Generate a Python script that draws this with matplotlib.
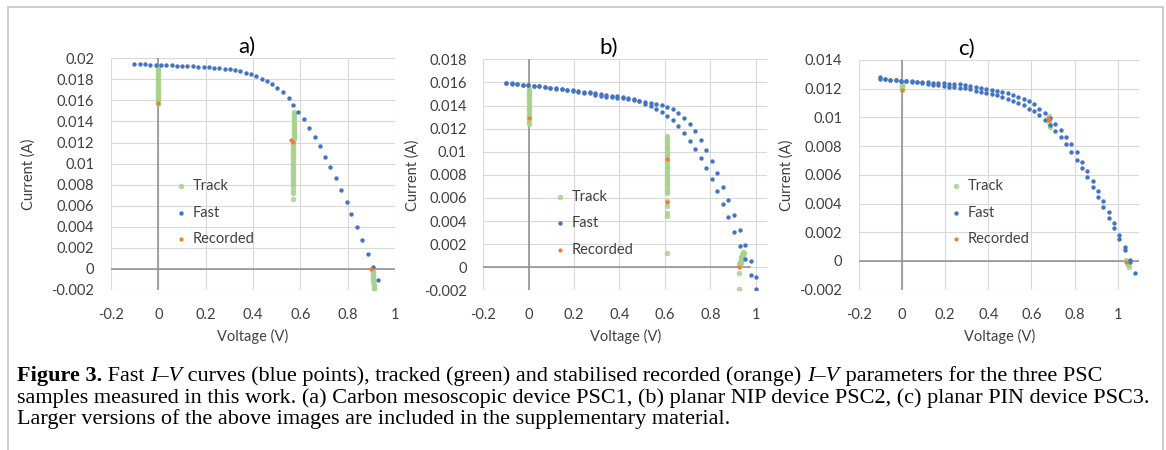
import matplotlib
matplotlib.use("Agg")
import matplotlib.pyplot as plt
from matplotlib.patches import Rectangle

plt.rcParams['font.family'] = ['Lato', 'DejaVu Sans']
plt.rcParams['axes.unicode_minus'] = False

# ---- data ----
x_ticks = [-0.2, 0, 0.2, 0.4, 0.6, 0.8, 1.0]
x_tick_labels = ['-0.2', '0', '0.2', '0.4', '0.6', '0.8', '1']

# a) carbon mesoscopic PSC1
a_fast_v = [-0.101, -0.078, -0.056, -0.034, -0.011, 0.011, 0.034, 0.056, 0.078, 0.101,
            0.123, 0.146, 0.168, 0.191, 0.213, 0.235, 0.258, 0.280, 0.302, 0.325,
            0.347, 0.370, 0.392, 0.414, 0.436, 0.459, 0.481, 0.503, 0.526, 0.550,
            0.571, 0.592, 0.614, 0.638, 0.660, 0.682, 0.705, 0.727, 0.750, 0.772,
            0.795, 0.816, 0.839, 0.861, 0.884, 0.907, 0.929]
a_fast_i = [0.01943, 0.01943, 0.01942, 0.01940, 0.01939, 0.01937, 0.01935, 0.01933, 0.01931, 0.01929,
            0.01927, 0.01925, 0.01922, 0.01919, 0.01916, 0.01912, 0.01907, 0.01901, 0.01894, 0.01886,
            0.01876, 0.01865, 0.01851, 0.01833, 0.01808, 0.01781, 0.01752, 0.01718, 0.01677, 0.01626,
            0.01559, 0.01492, 0.01420, 0.01340, 0.01255, 0.01166, 0.01065, 0.00970, 0.00862, 0.00748,
            0.00637, 0.00517, 0.00396, 0.00270, 0.00146, 0.00019, -0.00107]
a_track_v = [0.0] * 19 + [0.572] * 14 + [0.569] * 22 + [0.570, 0.570, 0.570] + \
            [0.905, 0.905, 0.906, 0.906, 0.907, 0.908, 0.908, 0.909, 0.910, 0.910, 0.911]
a_track_i = [0.0193, 0.0191, 0.0189, 0.0187, 0.0185, 0.0183, 0.0181, 0.0179, 0.0177, 0.0175,
             0.0173, 0.0171, 0.0169, 0.0167, 0.0165, 0.0163, 0.0161, 0.0159, 0.0157,
             0.0149, 0.0147, 0.0145, 0.0143, 0.0141, 0.0139, 0.0137, 0.0135, 0.0133, 0.0131,
             0.0129, 0.0127, 0.0125, 0.0123,
             0.0121, 0.0119, 0.0117, 0.0115, 0.0113, 0.0111, 0.0109, 0.0107, 0.0105, 0.0103,
             0.0101, 0.0099, 0.0097, 0.0095, 0.0093, 0.0091, 0.0089, 0.0087, 0.0085, 0.0083,
             0.0081, 0.0079,
             0.0075, 0.0072, 0.0066,
             0.0000, -0.0002, -0.0004, -0.0006, -0.0008, -0.0010, -0.0012, -0.0014, -0.0016,
             -0.0018, -0.0020]
a_rec_v = [0.0, 0.562, 0.568, 0.897]
a_rec_i = [0.01572, 0.01222, 0.01204, 0.0000]

# b) planar NIP PSC2 (two sweep directions)
b_fast_v = [-0.100, -0.075, -0.051, -0.026, -0.002, 0.023, 0.047, 0.072, 0.096, 0.121,
            0.145, 0.170, 0.194, 0.219, 0.243, 0.268, 0.292, 0.317, 0.341, 0.366,
            0.390, 0.415, 0.439, 0.464, 0.488, 0.513, 0.537, 0.562, 0.586, 0.611,
            0.635, 0.660, 0.684, 0.709, 0.733, 0.758, 0.782, 0.807, 0.831, 0.856,
            0.880, 0.905, 0.929, 0.954, 0.978, 1.003]
b_up_i = [0.01598, 0.01592, 0.01586, 0.01581, 0.01577, 0.01573, 0.01568, 0.01562, 0.01556, 0.01550,
          0.01544, 0.01538, 0.01532, 0.01526, 0.01520, 0.01513, 0.01506, 0.01499, 0.01492, 0.01486,
          0.01479, 0.01471, 0.01465, 0.01454, 0.01440, 0.01428, 0.01422, 0.01414, 0.01404, 0.01390,
          0.01366, 0.01335, 0.01295, 0.01243, 0.01177, 0.01104, 0.01018, 0.00920, 0.00813, 0.00698,
          0.00582, 0.00453, 0.00323, 0.00190, 0.00055, -0.00087]
b_lo_i = [0.01596, 0.01590, 0.01584, 0.01579, 0.01575, 0.01570, 0.01565, 0.01559, 0.01553, 0.01547,
          0.01540, 0.01534, 0.01527, 0.01518, 0.01512, 0.01505, 0.01494, 0.01484, 0.01478, 0.01473,
          0.01467, 0.01461, 0.01455, 0.01448, 0.01435, 0.01413, 0.01399, 0.01370, 0.01341, 0.01312,
          0.01272, 0.01223, 0.01162, 0.01096, 0.01022, 0.00945, 0.00862, 0.00767, 0.00660, 0.00545,
          0.00433, 0.00308, 0.00182, 0.00069, -0.00067, -0.00188]
b_track_v = [0.0] * 16 + [0.611] * 26 + [0.611] * 5 + \
            [0.928, 0.931, 0.934, 0.937, 0.940, 0.943, 0.946, 0.949, 0.945, 0.940, 0.935, 0.930,
             0.928, 0.928]
b_track_i = [0.0154, 0.0152, 0.0150, 0.0148, 0.0146, 0.0144, 0.0142, 0.0140, 0.0138, 0.0136,
             0.0134, 0.0132, 0.0130, 0.0128, 0.0126, 0.0124,
             0.0114, 0.0112, 0.0110, 0.0108, 0.0106, 0.0104, 0.0102, 0.0100, 0.0098, 0.0096,
             0.0094, 0.0092, 0.0090, 0.0088, 0.0086, 0.0084, 0.0082, 0.0080, 0.0078, 0.0076,
             0.0074, 0.0072, 0.0070, 0.0068, 0.0066, 0.0064,
             0.0057, 0.0053, 0.0047, 0.0044, 0.0012,
             0.0003, 0.0005, 0.0007, 0.0009, 0.0011, 0.0012, 0.0013, 0.0012, 0.0010, 0.0007,
             0.0004, 0.0001,
             -0.0005, -0.0019]
b_rec_v = [0.0, 0.611, 0.611, 0.926]
b_rec_i = [0.01289, 0.00937, 0.00565, 0.0000]

# c) planar PIN PSC3 (two sweep directions)
c_fast_v = [-0.104, -0.079, -0.055, -0.030, -0.005, 0.020, 0.044, 0.069, 0.094, 0.118,
            0.143, 0.168, 0.192, 0.217, 0.242, 0.267, 0.291, 0.316, 0.341, 0.365,
            0.390, 0.415, 0.439, 0.464, 0.489, 0.514, 0.538, 0.563, 0.588, 0.612,
            0.637, 0.662, 0.686, 0.711, 0.736, 0.760, 0.785, 0.810, 0.835, 0.859,
            0.884, 0.908, 0.933, 0.958, 0.983, 1.007, 1.032, 1.057, 1.082]
c_up_i = [0.01279, 0.01268, 0.01263, 0.01261, 0.01256, 0.01254, 0.01251, 0.01248, 0.01246, 0.01244,
          0.01242, 0.01240, 0.01238, 0.01235, 0.01233, 0.01230, 0.01226, 0.01221, 0.01214, 0.01206,
          0.01200, 0.01194, 0.01186, 0.01175, 0.01167, 0.01156, 0.01145, 0.01131, 0.01114, 0.01092,
          0.01060, 0.01029, 0.00994, 0.00954, 0.00915, 0.00866, 0.00813, 0.00757, 0.00692, 0.00629,
          0.00560, 0.00490, 0.00416, 0.00339, 0.00262, 0.00181, 0.00100, 0.00007, -0.00081]
c_lo_i = [0.01270, 0.01266, 0.01261, 0.01258, 0.01254, 0.01251, 0.01248, 0.01244, 0.01238, 0.01235,
          0.01228, 0.01224, 0.01219, 0.01215, 0.01211, 0.01206, 0.01202, 0.01196, 0.01184, 0.01179,
          0.01170, 0.01165, 0.01153, 0.01143, 0.01131, 0.01117, 0.01103, 0.01086, 0.01062, 0.01042,
          0.01018, 0.00984, 0.00945, 0.00903, 0.00861, 0.00813, 0.00757, 0.00703, 0.00645, 0.00583,
          0.00518, 0.00448, 0.00378, 0.00302, 0.00228, 0.00151, 0.00074, -0.00005]
c_track_v = [0.0, 0.0, 0.0, 0.0, 0.0, 0.680, 0.682, 0.683, 0.684, 0.686,
             1.040, 1.043, 1.046, 1.048, 1.050]
c_track_i = [0.0123, 0.0122, 0.0121, 0.0120, 0.0119, 0.0101, 0.0099, 0.0097, 0.0095, 0.0093,
             0.0001, -0.0001, -0.0002, -0.0003, -0.0004]
c_rec_v = [0.0, 0.678, 0.679, 1.039]
c_rec_i = [0.0119, 0.00994, 0.0098, -0.00005]

a_yticks = [-0.002, 0, 0.002, 0.004, 0.006, 0.008, 0.01, 0.012, 0.014, 0.016, 0.018, 0.02]
a_ylabels = ['-0.002', '0', '0.002', '0.004', '0.006', '0.008', '0.01', '0.012', '0.014',
             '0.016', '0.018', '0.02']
b_yticks = [-0.002, 0, 0.002, 0.004, 0.006, 0.008, 0.01, 0.012, 0.014, 0.016, 0.018]
b_ylabels = ['-0.002', '0', '0.002', '0.004', '0.006', '0.008', '0.01', '0.012', '0.014',
             '0.016', '0.018']
c_yticks = [-0.002, 0, 0.002, 0.004, 0.006, 0.008, 0.01, 0.012, 0.014]
c_ylabels = ['-0.002', '0', '0.002', '0.004', '0.006', '0.008', '0.01', '0.012', '0.014']

GREEN = '#a9d18e'
BLUE = '#4472c4'
ORANGE = '#ed7d31'

fig = plt.figure(figsize=(11.66, 4.5), dpi=100)
fig.patch.set_facecolor('white')

# grey frame around the figure
fig.patches.append(Rectangle((8 / 1166, -0.1), 1155 / 1166, 1.1 - 7 / 450,
                             transform=fig.transFigure, fill=False,
                             edgecolor='#c4c4c4', lw=1.2))

panels = [
    dict(rect=[0.0952, 0.3556, 0.2436, 0.5148], xmax=1.0, yt=a_yticks, yl=a_ylabels,
         fast=[(a_fast_v, a_fast_i)], track=(a_track_v, a_track_i), rec=(a_rec_v, a_rec_i),
         title='a)', tx=0.479, lpad=11, leg=(0.225, 0.478), axend=1.0),
    dict(rect=[0.4145, 0.3547, 0.2433, 0.5135], xmax=1.05, yt=b_yticks, yl=b_ylabels,
         fast=[(b_fast_v, b_up_i), (b_fast_v, b_lo_i)], track=(b_track_v, b_track_i),
         rec=(b_rec_v, b_rec_i), title='b)', tx=0.443, lpad=3, leg=(0.249, 0.435), axend=0.94),
    dict(rect=[0.7367, 0.3562, 0.2404, 0.5105], xmax=1.1, yt=c_yticks, yl=c_ylabels,
         fast=[(c_fast_v, c_up_i), (c_fast_v[:len(c_lo_i)], c_lo_i)], track=(c_track_v, c_track_i),
         rec=(c_rec_v, c_rec_i), title='c)', tx=0.382, lpad=4, leg=(0.326, 0.481), axend=1.0),
]

for p in panels:
    ax = fig.add_axes(p['rect'])
    ax.set_xlim(-0.2, p['xmax'])
    ax.set_ylim(p['yt'][0], p['yt'][-1])
    ax.set_xticks(x_ticks)
    ax.set_xticklabels(x_tick_labels)
    ax.set_yticks(p['yt'])
    ax.set_yticklabels(p['yl'])
    for s in ax.spines.values():
        s.set_visible(False)
    ax.tick_params(length=0, labelsize=10.5, colors='#404040')
    ax.tick_params(axis='y', pad=12)
    ax.tick_params(axis='x', pad=13)
    ax.grid(True, color='#d9d9d9', lw=0.8)
    ax.set_axisbelow(True)
    ax.axhline(0, xmax=p['axend'], color='#8c8c8c', lw=1.1, zorder=1)
    ax.axvline(0, color='#8c8c8c', lw=1.1, zorder=1)

    ht = ax.scatter(p['track'][0], p['track'][1], s=16, color=GREEN, alpha=0.85,
                    linewidths=0, zorder=2)
    for k, (fv, fi) in enumerate(p['fast']):
        hf = ax.scatter(fv, fi, s=10, color=BLUE, linewidths=0, zorder=3)
    hr = ax.scatter(p['rec'][0], p['rec'][1], s=9, color=ORANGE, linewidths=0, zorder=4)

    ax.set_xlabel('Voltage (V)', fontsize=10.5, color='#404040', labelpad=5)
    ax.set_ylabel('Current (A)', fontsize=10.5, color='#404040', labelpad=p['lpad'])
    ax.text(p['tx'], 1.022, p['title'], transform=ax.transAxes, ha='center',
            va='baseline', fontsize=16, color='#000000')

    leg = ax.legend([ht, hf, hr], ['Track', 'Fast', 'Recorded'], loc='upper left',
                    bbox_to_anchor=p['leg'], frameon=False, fontsize=10.5,
                    handlelength=0.8, handletextpad=0.4, labelspacing=0.85,
                    borderpad=0, borderaxespad=0, scatterpoints=1)
    for t in leg.get_texts():
        t.set_color('#404040')

# caption with mixed bold / italic runs
renderer = fig.canvas.get_renderer()
cap_size = 16


def draw_runs(x_px, y_px, runs):
    x = x_px / 1166
    for txt, weight, style in runs:
        t = fig.text(x, 1 - y_px / 450, txt, fontsize=cap_size, family='Liberation Serif',
                     fontweight=weight, fontstyle=style, va='baseline', ha='left')
        bb = t.get_window_extent(renderer)
        x = bb.x1 / fig.bbox.width


cap_lines = [
    [('Figure 3.', 'bold', 'normal'), (' Fast ', 'normal', 'normal'), ('I–V', 'normal', 'italic'),
     (' curves (blue points), tracked (green) and stabilised recorded (orange) ', 'normal', 'normal'),
     ('I–V', 'normal', 'italic'), (' parameters for the three PSC', 'normal', 'normal')],
    [('samples measured in this work. (a) Carbon mesoscopic device PSC1, (b) planar NIP device '
      'PSC2, (c) planar PIN device PSC3.', 'normal', 'normal')],
    [('Larger versions of the above images are included in the supplementary material.',
      'normal', 'normal')],
]
for n, runs in enumerate(cap_lines):
    draw_runs(17, 381 + n * 21.5, runs)

fig.savefig('out.png', dpi=100, facecolor='white')
